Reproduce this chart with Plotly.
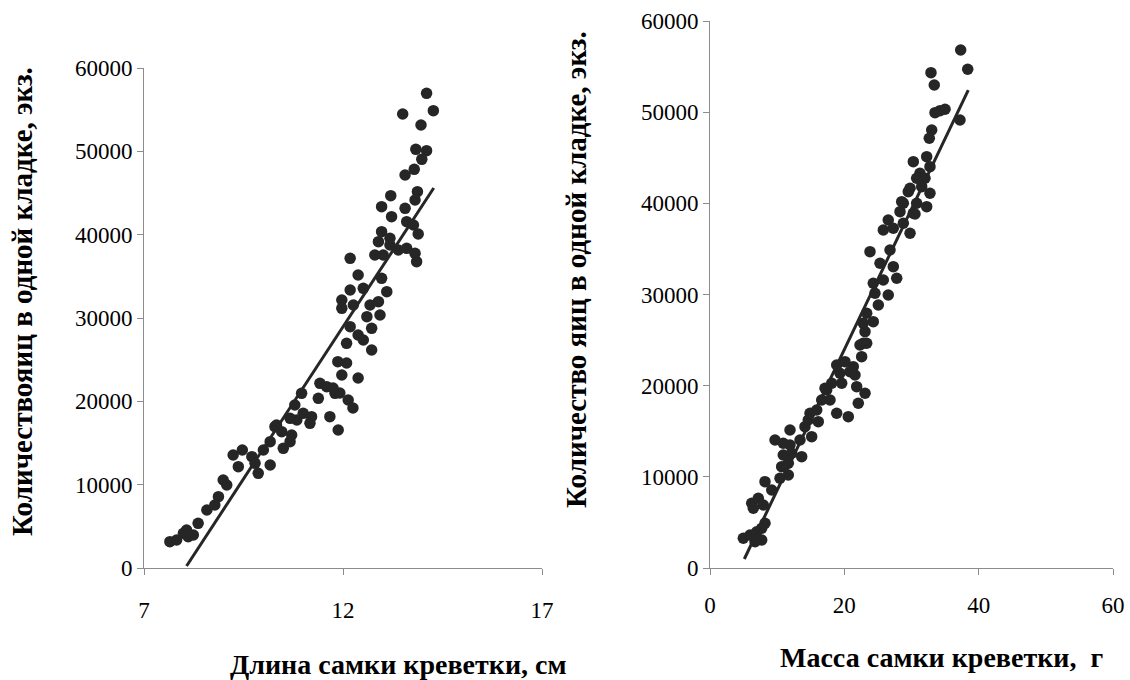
import numpy as np
import plotly.graph_objects as go

# ---- Left panel: female length (cm) vs eggs per clutch ----
length_cm = [7.65, 7.82, 7.99, 8.11, 8.24, 8.07, 8.36, 8.58, 8.78, 8.87, 8.99, 9.08,
             9.24, 9.47, 9.37, 9.71, 9.79, 9.87, 10.0, 10.17, 10.17, 10.29, 10.46, 10.5,
             10.67, 10.71, 10.79, 10.84, 10.96, 11.0, 11.17, 11.21, 11.38, 11.42, 11.67,
             11.8, 11.88, 11.87, 12.09, 11.97, 11.75, 11.92, 12.13, 12.25, 12.38, 11.59,
             10.33, 10.67, 12.18, 12.89, 12.8, 13.01, 13.18, 13.39, 13.6, 13.81, 13.85,
             12.38, 12.97, 13.1, 12.18, 12.51, 11.97, 11.97, 12.26, 12.68, 12.89, 12.6,
             12.93, 12.18, 12.72, 12.38, 12.51, 12.09, 12.72, 14.1, 14.27, 13.5, 13.96,
             13.83, 14.1, 13.98, 13.79, 13.56, 13.2, 13.87, 13.81, 12.97, 13.56, 13.22,
             13.6, 13.77, 13.89, 12.97, 13.18]
eggs_by_length = [3160, 3360, 4160, 3760, 3960, 4560, 5360, 6960, 7560, 8560, 10560, 9960,
                  13560, 14160, 12160, 13360, 12560, 11360, 14160, 12360, 15160, 16960, 16360, 14360,
                  15160, 15960, 19560, 17760, 20960, 18560, 17360, 18160, 20360, 22160, 18160,
                  20960, 16560, 24760, 24600, 23160, 21600, 21000, 20160, 19200, 22800, 21760,
                  17160, 17960, 37160, 39160, 37560, 37560, 38760, 38160, 38360, 37760, 36760,
                  35160, 34760, 33160, 33360, 33560, 32160, 31160, 31560, 31560, 31960, 30160,
                  30360, 28960, 28760, 27960, 27360, 26960, 26160, 56960, 54880, 54480, 53160,
                  50240, 50080, 49040, 47840, 47160, 44680, 45160, 44160, 43360, 43160, 42160,
                  41560, 41160, 40080, 40360, 39560]
length_fit_slope = 7304
length_fit_intercept = -58700
length_fit_x = [8.07, 14.28]

# ---- Right panel: female mass (g) vs eggs per clutch ----
mass_g = [4.96, 5.96, 6.95, 7.70, 6.70, 8.19, 7.70, 6.21, 7.19, 6.45, 7.94, 8.19,
          9.19, 10.42, 11.66, 10.67, 11.66, 10.91, 12.16, 9.68, 10.91, 11.91, 11.91, 13.65,
          13.4, 14.14, 14.63, 15.14, 14.89, 15.89, 16.12, 16.63, 17.37, 18.12, 18.86, 20.59,
          23.08, 22.82, 22.58, 18.86, 20.1, 21.33, 19.35, 21.59, 19.61, 21.84, 23.08, 22.08,
          17.12, 17.87, 29.52, 28.78, 28.29, 30.27, 26.54, 25.8, 27.29, 28.78, 29.78, 23.82,
          26.8, 25.31, 27.29, 27.8, 24.31, 25.8, 24.56, 26.54, 25.06, 23.33, 24.31, 22.82,
          22.33, 23.33, 20.84, 37.32, 38.37, 32.9, 33.39, 33.5, 34.99, 34.24, 37.22, 33.01,
          32.65, 32.26, 30.27, 32.75, 31.26, 30.77, 32.01, 31.52, 29.78, 32.75, 28.54, 30.77,
          32.26, 30.52]
eggs_by_mass = [3258, 3620, 3982, 3072, 2885, 4904, 4355, 7098, 7646, 6549, 6911, 9467,
                8557, 9840, 10202, 11113, 11486, 12396, 12583, 14042, 13680, 15139, 13493, 12210,
                14042, 15501, 16236, 14404, 16971, 17333, 16049, 18430, 19527, 20262, 16971, 16598,
                25922, 24650, 23180, 22269, 22631, 22083, 21359, 21172, 20262, 19889, 19165, 18068,
                19713, 18430, 41280, 40008, 39086, 38911, 38176, 37079, 37265, 37814, 36717, 34698,
                34885, 33426, 33053, 31780, 31232, 31594, 30135, 29948, 28851, 27941, 27019, 26844,
                24463, 24650, 21534, 56825, 54707, 54334, 52985, 49946, 50319, 50166, 49146, 48049,
                47138, 45120, 44571, 44023, 43299, 42750, 42750, 41829, 41653, 41105, 40183, 40008,
                39635, 38834]
mass_fit_slope = 1543
mass_fit_intercept = -6900
mass_fit_x = [5.11, 38.45]

left_x_ticks = [7, 12, 17]
right_x_ticks = [0, 20, 40, 60]
y_ticks = [0, 10000, 20000, 30000, 40000, 50000, 60000]
y_tick_text = ["0", "10000", "20000", "30000", "40000", "50000", "60000"]

left_xtitle = "Длина самки креветки, см"
right_xtitle = "Масса самки креветки,\u00a0 г"
left_ytitle = "Количествояиц в одной кладке, экз."
right_ytitle = "Количество яиц в одной кладке, экз."

DOT = "#262626"
AXIS = "#8c8c8c"
FONT = "Liberation Serif"
TICK_SIZE = 23
TITLE_SIZE = 28

fig = go.Figure()

fig.add_trace(go.Scatter(x=length_cm, y=eggs_by_length, mode="markers",
                         marker=dict(size=11.5, color=DOT), xaxis="x", yaxis="y",
                         showlegend=False, hoverinfo="x+y"))
lfx = np.array(length_fit_x)
fig.add_trace(go.Scatter(x=lfx, y=length_fit_slope * lfx + length_fit_intercept,
                         mode="lines", line=dict(color=DOT, width=3),
                         xaxis="x", yaxis="y", showlegend=False))

fig.add_trace(go.Scatter(x=mass_g, y=eggs_by_mass, mode="markers",
                         marker=dict(size=11.5, color=DOT), xaxis="x2", yaxis="y2",
                         showlegend=False, hoverinfo="x+y"))
mfx = np.array(mass_fit_x)
fig.add_trace(go.Scatter(x=mfx, y=mass_fit_slope * mfx + mass_fit_intercept,
                         mode="lines", line=dict(color=DOT, width=3),
                         xaxis="x2", yaxis="y2", showlegend=False))

W, H = 1130, 680
def px_x(p):
    return p / W
def px_y(p):
    return 1 - p / H

axis_common = dict(showgrid=False, zeroline=False, showline=True, linecolor=AXIS,
                   linewidth=1, ticks="outside", tickcolor=AXIS, ticklen=6, tickwidth=1,
                   automargin=False,
                   tickfont=dict(family=FONT, size=TICK_SIZE, color="black"))

def title_ann(text, x, y, angle=0, size=TITLE_SIZE):
    return dict(text=f"<b>{text}</b>", x=px_x(x), y=px_y(y), xref="paper", yref="paper",
                xanchor="center", yanchor="middle", showarrow=False, textangle=angle,
                font=dict(family=FONT, size=size, color="black"))

fig.update_layout(
    width=W, height=H,
    margin=dict(l=0, r=0, t=0, b=0),
    paper_bgcolor="white", plot_bgcolor="white",
    xaxis=dict(domain=[px_x(144), px_x(542)], range=[7, 17], tickvals=left_x_ticks,
               anchor="y", ticklabelstandoff=15, **axis_common),
    yaxis=dict(domain=[px_y(568), px_y(68)], range=[0, 60000], tickvals=y_ticks,
               ticktext=y_tick_text, anchor="x", **axis_common),
    xaxis2=dict(domain=[px_x(710), px_x(1113)], range=[0, 60], tickvals=right_x_ticks,
                anchor="y2", ticklabelstandoff=10, **axis_common),
    yaxis2=dict(domain=[px_y(568), px_y(21)], range=[0, 60000], tickvals=y_ticks,
                ticktext=y_tick_text, anchor="x2", **axis_common),
    annotations=[
        title_ann(left_xtitle, 398, 664),
        title_ann(right_xtitle, 941, 657),
        title_ann(left_ytitle, 22, 302, -90, 29),
        title_ann(right_ytitle, 576, 270, -90, 29),
    ],
)

fig.write_html("out.html",
               config={"displayModeBar": False},
               post_script="document.body.style.margin='0';document.body.style.overflow='hidden';")
